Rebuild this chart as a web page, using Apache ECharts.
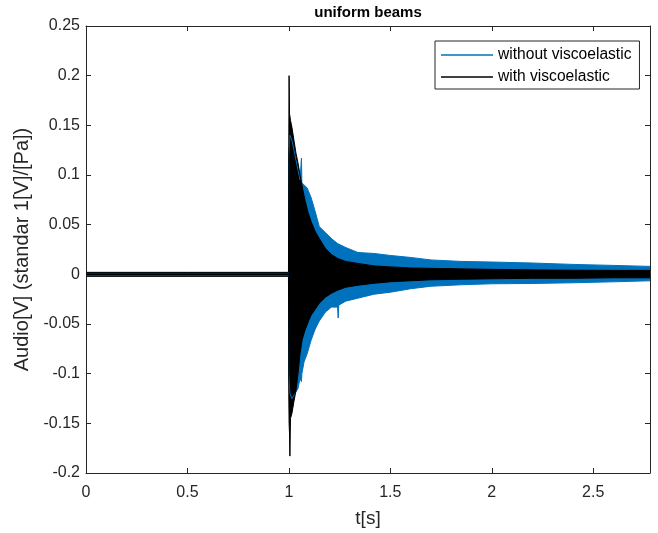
<!DOCTYPE html>
<html><head><meta charset="utf-8">
<script src="https://cdn.jsdelivr.net/npm/echarts@6/dist/echarts.min.js"></script>
<style>html,body{margin:0;padding:0;background:#fff}#c{width:658px;height:533px}</style>
</head><body><div id="c"></div>
<script>
const seriesNames = ['without viscoelastic', 'with viscoelastic'];
const xTickLabels = ['0', '0.5', '1', '1.5', '2', '2.5'];
const yTickLabels = ['-0.2', '-0.15', '-0.1', '-0.05', '0', '0.05', '0.1', '0.15', '0.2', '0.25'];

// without viscoelastic (blue)
const tBlue =     [0,      0.5,    0.998,  0.9995, 1.005, 1.015, 1.03,  1.045, 1.055, 1.062, 1.064, 1.075, 1.09,  1.11,  1.13,  1.15,  1.18,  1.21,  1.24,  1.243, 1.246, 1.28,  1.34,  1.42,  1.5,   1.6,    1.7,    1.85,   2.0,    2.2,    2.4,    2.6,    2.78];
const blueUpper = [0.0015, 0.0015, 0.0015, 0.12,   0.14,  0.135, 0.12,  0.105, 0.095, 0.117, 0.092, 0.09,  0.087, 0.077, 0.063, 0.048, 0.042, 0.036, 0.031, 0.031, 0.031, 0.027, 0.022, 0.021, 0.019, 0.017,  0.0145, 0.013,  0.0124, 0.0114, 0.010,  0.009,  0.008];
const blueLower = [-0.0015,-0.0015,-0.0015,-0.10,  -0.12, -0.125,-0.12, -0.115,-0.105,-0.108,-0.10, -0.088,-0.08, -0.066,-0.055,-0.047,-0.038,-0.033,-0.033,-0.044,-0.031,-0.027,-0.024,-0.020,-0.018,-0.0145,-0.012, -0.0105,-0.0095,-0.0092,-0.0085,-0.0075,-0.0065];

// with viscoelastic (black)
const tBlack =     [0,      0.5,    0.998,  0.9995, 1.001, 1.003, 1.005, 1.008, 1.015, 1.025, 1.035, 1.045, 1.055, 1.065, 1.08,  1.095, 1.11,  1.13,  1.15,  1.18,  1.21,  1.24,  1.28,  1.34,  1.42,  1.5,   1.6,    1.7,    1.85,   2.0,    2.2,    2.4,    2.6,    2.78];
const blackUpper = [0.002,  0.002,  0.002,  0.13,   0.200, 0.162, 0.16,  0.155, 0.148, 0.135, 0.122, 0.112, 0.10,  0.089, 0.074, 0.062, 0.053, 0.043, 0.036, 0.026, 0.020, 0.016, 0.013, 0.011, 0.0085,0.0075,0.0065, 0.006,  0.0055, 0.005,  0.0045, 0.0042, 0.004,  0.004];
const blackLower = [-0.002, -0.002, -0.002, -0.12,  -0.15, -0.16, -0.183,-0.145,-0.14, -0.128,-0.117,-0.10, -0.08, -0.066,-0.056,-0.048,-0.041,-0.035,-0.029,-0.023,-0.019,-0.016,-0.013,-0.011,-0.009,-0.0075,-0.0065,-0.0055,-0.005, -0.0045,-0.004, -0.004, -0.0035,-0.0035];

// ---- build series: each envelope is filled towards (slightly past) the zero line ----
function pairs(t, v) { return t.map((x, i) => [x, v[i]]); }

const BLUE = '#0072BD', BLACK = '#000000', AX = '#262626';
const FONT = 'Liberation Sans';
const OVERLAP = 0.0008;

function band(name, color, t, hi, lo) {
  const common = {
    name: name, type: 'line',
    symbol: 'none', showSymbol: false, smooth: false, animation: false,
    lineStyle: { color: color, width: 1 }, itemStyle: { color: color },
    emphasis: { disabled: true }, xAxisIndex: 0, yAxisIndex: 0
  };
  return [
    Object.assign({}, common, { data: pairs(t, hi), areaStyle: { color: color, opacity: 1, origin: -OVERLAP } }),
    Object.assign({}, common, { data: pairs(t, lo), areaStyle: { color: color, opacity: 1, origin: OVERLAP } })
  ];
}

const axisLineStyle = { show: true, onZero: false, lineStyle: { color: AX, width: 1 } };
const tickStyle = { show: true, inside: true, length: 5, lineStyle: { color: AX, width: 1 } };

const option = {
  animation: false,
  backgroundColor: '#fff',
  title: {
    text: 'uniform beams', left: 368, top: 5, padding: 0, textAlign: 'center',
    textStyle: { fontSize: 15, fontWeight: 'bold', fontFamily: FONT, color: '#000' }
  },
  legend: {
    data: seriesNames, orient: 'vertical', left: 435, top: 41,
    padding: [6, 8, 4, 6], itemGap: 6, itemWidth: 52, itemHeight: 1.5, icon: 'rect',
    backgroundColor: '#fff', borderColor: AX, borderWidth: 1, borderRadius: 0,
    selectedMode: false,
    textStyle: { fontSize: 15.6, fontFamily: FONT, color: '#000' }
  },
  grid: { left: 86, right: 8, top: 26, bottom: 60, containLabel: false },
  xAxis: [{
    type: 'value', position: 'bottom', min: 0, max: 2.78, interval: 0.5,
    axisLine: axisLineStyle, axisTick: tickStyle, splitLine: { show: false },
    axisLabel: { color: AX, fontSize: 16, fontFamily: FONT, margin: 12, showMaxLabel: false,
      formatter: v => { const i = xTickLabels.indexOf(String(v)); return i >= 0 ? xTickLabels[i] : ''; } },
    name: 't[s]', nameLocation: 'middle', nameGap: 36,
    nameTextStyle: { color: AX, fontSize: 19, fontFamily: FONT }
  }, {
    type: 'value', position: 'top', min: 0, max: 2.78, interval: 0.5,
    axisLine: axisLineStyle, axisTick: tickStyle, splitLine: { show: false },
    axisLabel: { show: false }
  }],
  yAxis: [{
    type: 'value', position: 'left', min: -0.2, max: 0.25, interval: 0.05,
    axisLine: axisLineStyle, axisTick: tickStyle, splitLine: { show: false },
    axisLabel: { color: AX, fontSize: 16, fontFamily: FONT, margin: 6,
      formatter: v => { const s = String(+v.toFixed(4)); return yTickLabels.indexOf(s) >= 0 ? s : ''; } },
    name: 'Audio[V] (standar 1[V]/[Pa])', nameLocation: 'middle', nameGap: 34,
    nameTextStyle: { color: AX, fontSize: 20, fontFamily: FONT }
  }, {
    type: 'value', position: 'right', min: -0.2, max: 0.25, interval: 0.05,
    axisLine: axisLineStyle, axisTick: tickStyle, splitLine: { show: false },
    axisLabel: { show: false }
  }],
  series: [].concat(
    band(seriesNames[0], BLUE, tBlue, blueUpper, blueLower),
    band(seriesNames[1], BLACK, tBlack, blackUpper, blackLower)
  )
};

const chart = echarts.init(document.getElementById('c'), null, { renderer: 'canvas' });
chart.setOption(option);
</script>
</body></html>
